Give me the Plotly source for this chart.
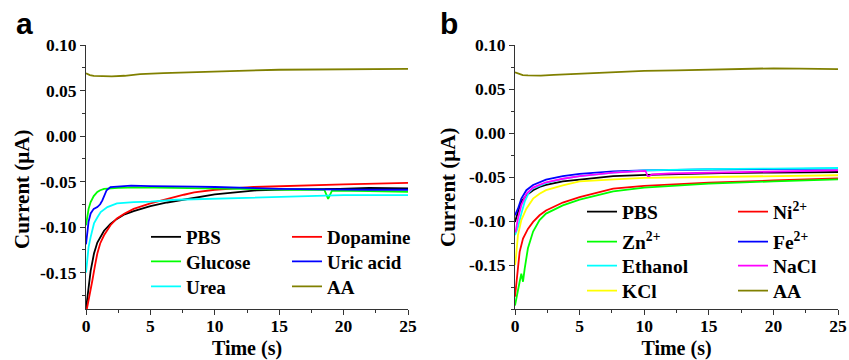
import plotly.graph_objects as go
from plotly.subplots import make_subplots

# ---------------- Panel a ----------------
a_pbs_t = [0, 0.1, 0.23, 0.36, 0.62, 0.88, 1.4, 1.9, 2.4, 3.0, 3.7, 5, 6.3, 7.6, 8.4, 10, 13.25, 16, 19.7, 22, 25]
a_pbs_v = [-0.19, -0.177, -0.159, -0.148, -0.129, -0.117, -0.104, -0.0965, -0.091, -0.086, -0.0824, -0.077,
           -0.073, -0.070, -0.0675, -0.064, -0.0596, -0.0585, -0.058, -0.057, -0.0575]

a_dop_t = [0, 0.15, 0.3, 0.49, 0.7, 0.88, 1.1, 1.4, 1.9, 2.4, 3.0, 3.7, 5, 6.3, 7.6, 8.4, 10, 13, 16, 20, 25]
a_dop_v = [-0.195, -0.185, -0.172, -0.159, -0.142, -0.129, -0.118, -0.109, -0.098, -0.0905, -0.085, -0.080,
           -0.074, -0.069, -0.0645, -0.062, -0.059, -0.056, -0.0545, -0.053, -0.0515]

a_glu_t = [0, 0.1, 0.2, 0.36, 0.6, 0.88, 1.1, 1.4, 1.7, 2.5, 4, 6, 8, 10, 12, 14, 16, 18.5, 18.8, 19.1, 20, 22, 25]
a_glu_v = [-0.098, -0.088, -0.080, -0.0725, -0.066, -0.0615, -0.0595, -0.058, -0.0575, -0.057, -0.0565, -0.057,
           -0.0575, -0.058, -0.058, -0.0585, -0.059, -0.059, -0.069, -0.060, -0.060, -0.0605, -0.0612]

a_uric_t = [0, 0.1, 0.2, 0.36, 0.6, 0.88, 1.1, 1.27, 1.45, 1.6, 1.9, 2.5, 3.5, 5, 7, 8.5, 10, 12, 15, 18, 20, 22, 25]
a_uric_v = [-0.119, -0.103, -0.094, -0.085, -0.080, -0.078, -0.075, -0.0707, -0.064, -0.0595, -0.056, -0.0555,
            -0.0545, -0.055, -0.055, -0.0555, -0.056, -0.057, -0.058, -0.0585, -0.059, -0.059, -0.059]

a_urea_t = [0, 0.1, 0.2, 0.36, 0.62, 0.9, 1.14, 1.66, 2.4, 3.7, 5, 7, 10, 15, 20, 25]
a_urea_v = [-0.150, -0.135, -0.122, -0.111, -0.096, -0.089, -0.0835, -0.078, -0.074, -0.0725, -0.072, -0.070,
            -0.069, -0.067, -0.065, -0.065]

a_aa_t = [0, 0.3, 0.6, 1, 2, 3, 4.2, 6, 8, 10, 12.5, 15, 17.5, 20, 22, 24, 25]
a_aa_v = [0.069, 0.067, 0.066, 0.0658, 0.0655, 0.0662, 0.068, 0.0692, 0.0702, 0.071, 0.0718, 0.0728, 0.073,
          0.0733, 0.074, 0.0743, 0.0738]

# ---------------- Panel b ----------------
b_pbs_t = [0, 0.05, 0.23, 0.49, 0.88, 1.4, 1.9, 2.4, 3.7, 5, 7.6, 10.2, 13, 16, 20, 25]
b_pbs_v = [-0.101, -0.098, -0.0897, -0.078, -0.0708, -0.065, -0.0613, -0.059, -0.055, -0.053, -0.049, -0.0475,
           -0.0465, -0.0455, -0.045, -0.0443]

b_ni_t = [0, 0.1, 0.23, 0.36, 0.62, 1.0, 1.4, 1.9, 2.4, 3.7, 5, 6.3, 7.6, 10, 15, 20, 25]
b_ni_v = [-0.186, -0.172, -0.154, -0.135, -0.120, -0.109, -0.101, -0.0935, -0.088, -0.079, -0.073, -0.068,
          -0.0632, -0.060, -0.0564, -0.054, -0.0515]

b_zn_t = [0, 0.05, 0.2, 0.36, 0.49, 0.62, 0.75, 1.0, 1.4, 1.9, 2.4, 3.7, 5, 6.3, 7.6, 10, 15, 20, 25]
b_zn_v = [-0.196, -0.192, -0.178, -0.169, -0.160, -0.169, -0.154, -0.131, -0.112, -0.099, -0.0916, -0.0822,
          -0.0757, -0.071, -0.0663, -0.062, -0.0575, -0.055, -0.0526]

b_fe_t = [0, 0.05, 0.23, 0.49, 0.88, 1.4, 1.9, 2.4, 3.7, 5, 7.6, 10, 15, 20, 25]
b_fe_v = [-0.0935, -0.092, -0.086, -0.0746, -0.065, -0.059, -0.0556, -0.053, -0.049, -0.0465, -0.0435, -0.0425,
          -0.0415, -0.041, -0.0405]

b_eth_t = [0, 0.05, 0.23, 0.49, 0.75, 1.1, 1.4, 2.4, 3.7, 5, 7.6, 10, 15, 20, 25]
b_eth_v = [-0.116, -0.114, -0.107, -0.0916, -0.078, -0.067, -0.063, -0.057, -0.052, -0.049, -0.045, -0.0425,
           -0.041, -0.0405, -0.0398]

b_nacl_t = [0, 0.05, 0.23, 0.49, 0.88, 1.4, 1.9, 2.4, 3.7, 5, 7.6, 10.1, 10.3, 10.6, 12, 15, 20, 25]
b_nacl_v = [-0.1125, -0.112, -0.097, -0.082, -0.069, -0.062, -0.059, -0.056, -0.052, -0.049, -0.045, -0.043,
            -0.050, -0.047, -0.046, -0.045, -0.0435, -0.0424]

b_kcl_t = [0, 0.05, 0.23, 0.49, 0.88, 1.4, 1.9, 2.4, 3.7, 5, 7.7, 10, 15, 20, 25]
b_kcl_v = [-0.150, -0.145, -0.116, -0.099, -0.086, -0.0746, -0.069, -0.065, -0.0594, -0.055, -0.0526, -0.051,
           -0.050, -0.049, -0.048]

b_aa_t = [0, 0.3, 0.6, 1, 2, 3, 5, 7, 10, 12.5, 15, 17.5, 20, 22, 25]
b_aa_v = [0.069, 0.067, 0.0658, 0.0655, 0.0652, 0.066, 0.0675, 0.069, 0.0705, 0.0712, 0.072, 0.0725, 0.0735,
          0.0732, 0.0725]

# tick labels
x_ticks = [0, 5, 10, 15, 20, 25]
x_ticktext = ["0", "5", "10", "15", "20", "25"]
y_ticks = [-0.15, -0.10, -0.05, 0.00, 0.05, 0.10]
y_ticktext = ["-0.15", "-0.10", "-0.05", "0.00", "0.05", "0.10"]

# (name, t, v, colour, legend row)
a_series = [
    ("PBS", a_pbs_t, a_pbs_v, "#000000", "legend"),
    ("Dopamine", a_dop_t, a_dop_v, "#ff0000", "legend"),
    ("Glucose", a_glu_t, a_glu_v, "#00ff00", "legend2"),
    ("Uric acid", a_uric_t, a_uric_v, "#0000ff", "legend2"),
    ("Urea", a_urea_t, a_urea_v, "#00ffff", "legend3"),
    ("AA", a_aa_t, a_aa_v, "#808000", "legend3"),
]
b_series = [
    ("PBS", b_pbs_t, b_pbs_v, "#000000", "legend4"),
    ("Ni<sup>2+</sup>", b_ni_t, b_ni_v, "#ff0000", "legend4"),
    ("Zn<sup>2+</sup>", b_zn_t, b_zn_v, "#00ff00", "legend5"),
    ("Fe<sup>2+</sup>", b_fe_t, b_fe_v, "#0000ff", "legend5"),
    ("Ethanol", b_eth_t, b_eth_v, "#00ffff", "legend6"),
    ("NaCl", b_nacl_t, b_nacl_v, "#ff00ff", "legend6"),
    ("KCl", b_kcl_t, b_kcl_v, "#ffff00", "legend7"),
    ("AA", b_aa_t, b_aa_v, "#808000", "legend7"),
]

SERIF = "Liberation Serif"
fig = make_subplots(rows=1, cols=2, horizontal_spacing=0.1)

for name, t, v, c, lg in a_series:
    fig.add_trace(go.Scatter(x=t, y=v, mode="lines", name=name, line=dict(color=c, width=1.8),
                             legend=lg), row=1, col=1)
for name, t, v, c, lg in b_series:
    fig.add_trace(go.Scatter(x=t, y=v, mode="lines", name=name, line=dict(color=c, width=1.8),
                             legend=lg), row=1, col=2)

W, H = 849, 360
ML, MR, MT, MB = 86, 11, 45, 51
pw = W - ML - MR
ph = H - MT - MB
d1 = [0, (408 - ML) / pw]
d2 = [(515 - ML) / pw, 1]


def px_x(x):
    return (x - ML) / pw


def px_y(y):
    return 1 - (y - MT) / ph


axis_common = dict(
    showline=True, linecolor="#333333", linewidth=1, mirror=False,
    ticks="outside", ticklen=5, tickwidth=1, tickcolor="#333333",
    tickfont=dict(family=SERIF, size=17.5, color="#000000", weight="bold"),
    showgrid=False, zeroline=False, automargin=False,
)

fig.update_xaxes(**axis_common, range=[0, 25], tickvals=x_ticks, ticktext=x_ticktext, ticklabelstandoff=-4,
                 minor=dict(ticks="outside", ticklen=3, dtick=2.5, tick0=0, tickcolor="#333333"),
                 title=dict(text="Time (s)", font=dict(family=SERIF, size=20, color="#000", weight="bold"),
                            standoff=6))
fig.update_xaxes(domain=d1, row=1, col=1)
fig.update_xaxes(domain=d2, row=1, col=2)

fig.update_yaxes(**axis_common, tickvals=y_ticks, ticktext=y_ticktext,
                 minor=dict(ticks="outside", ticklen=3, dtick=0.025, tick0=0, tickcolor="#333333"))
fig.update_yaxes(range=[-0.19, 0.10], row=1, col=1)
fig.update_yaxes(range=[-0.20, 0.10], row=1, col=2)

font_a = dict(family=SERIF, size=19, color="#000000", weight="bold")
font_b = dict(family=SERIF, size=19.5, color="#000000", weight="bold")
leg_a = dict(orientation="h", xanchor="left", yanchor="top", bgcolor="rgba(0,0,0,0)",
             entrywidth=96, entrywidthmode="pixels", font=font_a, x=px_x(146))
leg_b = dict(orientation="h", xanchor="left", yanchor="top", bgcolor="rgba(0,0,0,0)",
             entrywidth=106, entrywidthmode="pixels", font=font_b, x=px_x(582))

title_font = dict(family=SERIF, size=21, color="#000", weight="bold")
panel_font = dict(family="Liberation Sans", size=30, color="#000", weight="bold")

fig.update_layout(
    width=W, height=H,
    margin=dict(l=ML, r=MR, t=MT, b=MB, autoexpand=False),
    paper_bgcolor="white", plot_bgcolor="white",
    legend=dict(**leg_a, y=px_y(218)),
    legend2=dict(**leg_a, y=px_y(242.5)),
    legend3=dict(**leg_a, y=px_y(267.5)),
    legend4=dict(**leg_b, y=px_y(192.5)),
    legend5=dict(**leg_b, y=px_y(222.5)),
    legend6=dict(**leg_b, y=px_y(246.5)),
    legend7=dict(**leg_b, y=px_y(271.5)),
    annotations=[
        dict(text="a", xref="paper", yref="paper", x=px_x(14), y=px_y(42),
             xanchor="left", yanchor="bottom", showarrow=False, font=panel_font),
        dict(text="b", xref="paper", yref="paper", x=px_x(438), y=px_y(42),
             xanchor="left", yanchor="bottom", showarrow=False, font=panel_font),
        dict(text="Current (μA)", xref="paper", yref="paper", x=px_x(22), y=px_y(190),
             xanchor="center", yanchor="middle", textangle=-90, showarrow=False, font=title_font),
        dict(text="Current (μA)", xref="paper", yref="paper", x=px_x(448), y=px_y(188),
             xanchor="center", yanchor="middle", textangle=-90, showarrow=False, font=title_font),
    ],
)

fig.write_html("out.html", config={"displayModeBar": False},
               post_script="document.body.style.margin='0';document.body.style.overflow='hidden';")
